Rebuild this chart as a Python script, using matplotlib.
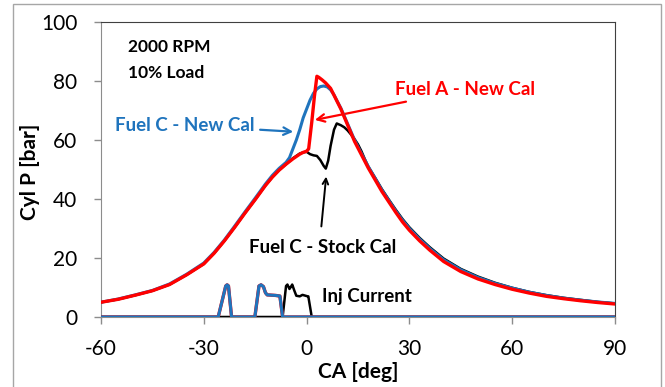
import matplotlib
matplotlib.use('Agg')
import matplotlib.pyplot as plt
from matplotlib.patches import Rectangle

plt.rcParams['font.family'] = ['Lato', 'DejaVu Sans']
plt.rcParams['axes.unicode_minus'] = False

RED = '#FF0000'
BLUE = '#1F74BD'
BLACK = '#000000'

# cylinder pressure, Fuel A - New Cal
ca_a = [-60, -55, -50, -45, -40, -35, -30, -27, -24, -21, -18, -15, -12, -10, -8, -6, -4, -2, -1, 0,
        0.6, 1.5, 2.3, 3.0, 3.6, 4.5, 5.5, 7, 8.5, 10, 12, 14, 16, 18, 20, 22, 24, 26, 28, 30,
        33, 36, 40, 45, 50, 55, 60, 65, 70, 75, 80, 85, 90]
p_a = [5.0, 6.0, 7.4, 8.9, 11.0, 14.3, 18.0, 21.6, 25.8, 30.4, 35.2, 39.8, 44.6, 47.4, 49.8, 51.8, 53.6, 55.2, 55.8, 56.2,
       57.0, 66.0, 75.0, 81.6, 81.2, 80.4, 79.4, 77.5, 74.0, 70.5, 65.0, 59.5, 55.0, 50.5, 46.5, 42.5, 39.0, 35.5, 32.2, 29.4,
       25.8, 22.6, 18.8, 15.4, 12.9, 11.0, 9.4, 8.1, 7.0, 6.2, 5.5, 4.9, 4.4]

# cylinder pressure, Fuel C - New Cal
ca_c_new = [-60, -55, -50, -45, -40, -35, -30, -27, -24, -21, -18, -15, -12, -10, -8, -6, -5, -4, -3, -2, -1, 0,
            1, 2, 3, 4, 5, 6, 7, 8, 9, 10, 12, 14, 16, 18, 20, 22, 24, 26, 28, 30,
            33, 36, 40, 45, 50, 55, 60, 65, 70, 75, 80, 85, 90]
p_c_new = [5.0, 6.1, 7.5, 9.0, 11.2, 14.5, 18.3, 21.9, 26.1, 30.8, 35.6, 40.3, 45.1, 48.0, 50.4, 52.4, 54.0, 57.0, 60.0, 63.5, 67.5, 70.5,
           73.5, 75.8, 77.3, 78.1, 78.3, 78.0, 77.0, 75.3, 73.0, 70.8, 65.4, 60.0, 55.4, 51.0, 47.0, 43.0, 39.5, 36.0, 32.8, 30.0,
           26.4, 23.2, 19.4, 16.0, 13.4, 11.4, 9.8, 8.4, 7.3, 6.4, 5.7, 5.1, 4.6]

# cylinder pressure, Fuel C - Stock Cal
ca_c_stock = [-60, -55, -50, -45, -40, -35, -30, -27, -24, -21, -18, -15, -12, -10, -8, -6, -4, -3, -2, -1, 0,
              1, 2, 3, 4, 5, 5.6, 6.3, 7, 8, 8.8, 10, 11, 12, 13, 14, 15, 16, 17, 18, 20, 22, 24, 26, 28, 30,
              33, 36, 40, 45, 50, 55, 60, 65, 70, 75, 80, 85, 90]
p_c_stock = [5.0, 6.0, 7.4, 8.9, 11.0, 14.3, 18.0, 21.6, 25.8, 30.4, 35.2, 39.8, 44.6, 47.4, 49.8, 51.8, 53.8, 54.6, 55.4, 55.8, 56.0,
             55.2, 54.8, 54.6, 53.2, 51.2, 50.3, 53.0, 58.0, 63.5, 65.6, 65.0, 64.3, 63.2, 61.8, 60.3, 58.5, 56.2, 53.5, 51.0,
             47.2, 43.3, 39.8, 36.4, 33.2, 30.4, 26.8, 23.6, 19.8, 16.3, 13.7, 11.6, 9.9, 8.5, 7.4, 6.5, 5.8, 5.1, 4.6]

# injector current, new calibration (split injection)
ca_inj_new = [-60, -25.8, -23.6, -23.2, -22.8, -21.9, -15.1, -13.9, -13.3, -12.6, -12.0, -11.5, -9.0, -7.8, -7.0, 90]
inj_new = [0, 0, 10.5, 10.9, 10.5, 0, 0, 10.5, 10.9, 10.3, 8.2, 7.5, 7.3, 7.1, 0, 0]

# injector current, stock calibration
ca_inj_stock = [-60, -7.0, -6.0, -5.6, -5.0, -4.6, -4.2, -3.6, -3.0, -2.0, -1.2, 0.3, 0.5, 1.5, 90]
inj_stock = [0, 0, 10.5, 11.0, 9.5, 10.2, 11.0, 9.0, 7.2, 7.0, 7.5, 7.0, 7.0, 0, 0]

x_ticks = [-60, -30, 0, 30, 60, 90]
y_ticks = [0, 20, 40, 60, 80, 100]


def main():
    fig = plt.figure(figsize=(6.65, 3.87), dpi=100)
    fig.patches.append(Rectangle((0.0195, -0.02), 0.9745, 1.0097, transform=fig.transFigure,
                                 fill=False, edgecolor='#A6A6A6', linewidth=1.0))
    ax = fig.add_axes([0.1519, 0.1809, 0.7729, 0.7623])

    ax.plot(ca_c_stock, p_c_stock, color=BLACK, lw=1.8, zorder=3)
    ax.plot(ca_c_new, p_c_new, color=BLUE, lw=2.2, zorder=4)
    ax.plot(ca_a, p_a, color=RED, lw=2.4, zorder=5)
    ax.plot(ca_inj_stock, inj_stock, color=BLACK, lw=1.8, zorder=6)
    ax.plot(ca_inj_new, inj_new, color=RED, lw=2.4, zorder=7)
    ax.plot(ca_inj_new, inj_new, color=BLUE, lw=2.2, zorder=8)

    ax.set_xlim(-60, 90)
    ax.set_ylim(0, 100)
    ax.set_xticks(x_ticks)
    ax.set_yticks(y_ticks)
    ax.tick_params(axis='both', direction='out', length=5, width=1, color='#8C8C8C', labelsize=15)
    ax.tick_params(axis='y', pad=12)
    ax.tick_params(axis='x', pad=11)
    for side in ['left', 'bottom']:
        ax.spines[side].set_color('#8C8C8C')
    for side in ['top', 'right']:
        ax.spines[side].set_color('#404040')

    fig.text(0.045, 0.557, 'Cyl P [bar]', rotation=90, ha='center', va='center',
             fontsize=15, fontweight='bold')
    fig.text(0.538, 0.040, 'CA [deg]', ha='center', va='center', fontsize=15, fontweight='bold')

    ax.text(-52.1, 91.5, '2000 RPM', ha='left', va='center', fontsize=12.5, fontweight='bold')
    ax.text(-52.1, 82.7, '10% Load', ha='left', va='center', fontsize=12.5, fontweight='bold')

    ax.annotate('Fuel A - New Cal', xy=(2.4, 66.8), xytext=(25.8, 77), color=RED,
                fontsize=13.5, fontweight='bold', ha='left', va='center',
                arrowprops=dict(arrowstyle='->', color=RED, lw=1.6, shrinkA=2, shrinkB=0))
    ax.annotate('Fuel C - New Cal', xy=(-3.9, 62.8), xytext=(-55.9, 65), color=BLUE,
                fontsize=13.5, fontweight='bold', ha='left', va='center',
                arrowprops=dict(arrowstyle='->', color=BLUE, lw=1.6, shrinkA=2, shrinkB=0))
    ax.annotate('', xy=(5.7, 47.6), xytext=(4.3, 30.7),
                arrowprops=dict(arrowstyle='->', color=BLACK, lw=1.4, shrinkA=0, shrinkB=0))
    ax.text(4.8, 23.7, 'Fuel C - Stock Cal', ha='center', va='center', fontsize=13.5, fontweight='bold')
    ax.text(4.5, 7.0, 'Inj Current', ha='left', va='center', fontsize=13.5, fontweight='bold')

    plt.savefig('out.png', dpi=100)


if __name__ == "__main__":
    main()
